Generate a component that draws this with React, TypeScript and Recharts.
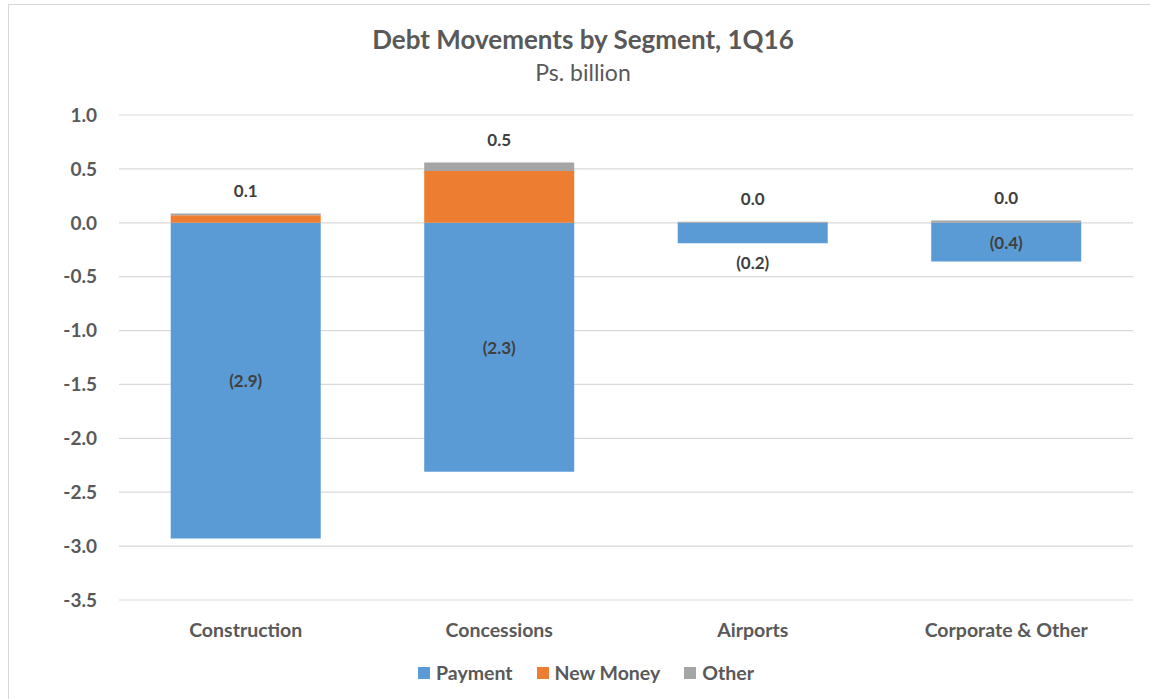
import React from "react";
import { Bar, BarChart, CartesianGrid, Legend, XAxis, YAxis } from "recharts";

const segments = ["Construction", "Concessions", "Airports", "Corporate & Other"];
const payment = [-2.93, -2.31, -0.19, -0.36];
const newMoney = [0.07, 0.48, 0, 0];
const other = [0.015, 0.08, 0.01, 0.02];
const yTicks = [1, 0.5, 0, -0.5, -1, -1.5, -2, -2.5, -3, -3.5];

const seriesNames = ["Payment", "New Money", "Other"];
const colors = ["#5B9BD5", "#ED7D31", "#A5A5A5"];

const data = segments.map((name, i) => ({
  name,
  payment: payment[i],
  newMoney: newMoney[i],
  other: other[i],
}));

const FONT = "Lato, 'Open Sans', sans-serif";

const fmtNeg = (v: number) => `(${Math.abs(v).toFixed(1)})`;

const PaymentLabel = (props: any) => {
  const { x, y, width, height, index } = props;
  const top = Math.min(y, y + height);
  const bottom = Math.max(y, y + height);
  const h = bottom - top;
  const cy = h < 30 ? bottom + 19 : (top + bottom) / 2;
  return (
    <text
      x={x + width / 2}
      y={cy}
      textAnchor="middle"
      dominantBaseline="central"
      fill="#404040"
      fontSize={17}
      fontWeight={700}
      fontFamily={FONT}
    >
      {fmtNeg(payment[index])}
    </text>
  );
};

const TopLabel = (props: any) => {
  const { x, y, width, height, index } = props;
  const top = Math.min(y, y + height);
  return (
    <text
      x={x + width / 2}
      y={top - 23}
      textAnchor="middle"
      dominantBaseline="central"
      fill="#404040"
      fontSize={17}
      fontWeight={700}
      fontFamily={FONT}
    >
      {newMoney[index].toFixed(1)}
    </text>
  );
};

const LegendContent = () => (
  <div
    style={{
      display: "flex",
      justifyContent: "center",
      gap: 24,
      fontFamily: FONT,
      fontWeight: 700,
      fontSize: 19.5,
      color: "#595959",
    }}
  >
    {seriesNames.map((s, i) => (
      <div key={s} style={{ display: "flex", alignItems: "center" }}>
        <span style={{ width: 12, height: 12, background: colors[i], marginRight: 6, display: "inline-block" }} />
        {s}
      </div>
    ))}
  </div>
);

export default function App() {
  return (
    <div style={{ position: "absolute", left: 0, top: 0, width: 1150, height: 699, background: "#fff", overflow: "hidden" }}>
      <div
        style={{
          position: "absolute",
          left: 8,
          top: 4,
          width: 1200,
          height: 750,
          border: "1px solid #d9d9d9",
        }}
      />
      <div
        style={{
          position: "absolute",
          top: 21,
          left: 0,
          width: 1166,
          textAlign: "center",
          fontFamily: FONT,
          color: "#595959",
        }}
      >
        <div style={{ fontSize: 26, fontWeight: 700, lineHeight: "36px" }}>Debt Movements by Segment, 1Q16</div>
        <div style={{ fontSize: 23, lineHeight: "30px" }}>Ps. billion</div>
      </div>
      <div style={{ position: "absolute", left: 0, top: 0 }}>
        <BarChart
          width={1150}
          height={699}
          data={data}
          stackOffset="sign"
          margin={{ top: 115, right: 17, bottom: 59, left: 0 }}
          barCategoryGap="20.4%"
        >
          <CartesianGrid vertical={false} stroke="#d9d9d9" strokeWidth={1.2} />
          <XAxis
            dataKey="name"
            axisLine={false}
            tickLine={false}
            height={40}
            tick={{ fill: "#595959", fontSize: 19.5, fontWeight: 700, fontFamily: FONT }}
            dy={15}
          />
          <YAxis
            domain={[-3.5, 1]}
            ticks={yTicks}
            interval={0}
            axisLine={false}
            tickLine={false}
            width={119}
            tickFormatter={(v: number) => v.toFixed(1)}
            tick={{ fill: "#595959", fontSize: 19, fontWeight: 700, fontFamily: FONT }}
            dx={-14}
          />
          <Legend
            layout="horizontal"
            verticalAlign="middle"
            align="center"
            content={<LegendContent />}
            wrapperStyle={{ top: 661, left: 0, width: 1172 }}
          />
          <Bar dataKey="payment" name="Payment" stackId="a" fill={colors[0]} isAnimationActive={false} label={<PaymentLabel />} />
          <Bar dataKey="newMoney" name="New Money" stackId="a" fill={colors[1]} isAnimationActive={false} />
          <Bar dataKey="other" name="Other" stackId="a" fill={colors[2]} isAnimationActive={false} label={<TopLabel />} />
        </BarChart>
      </div>
    </div>
  );
}
